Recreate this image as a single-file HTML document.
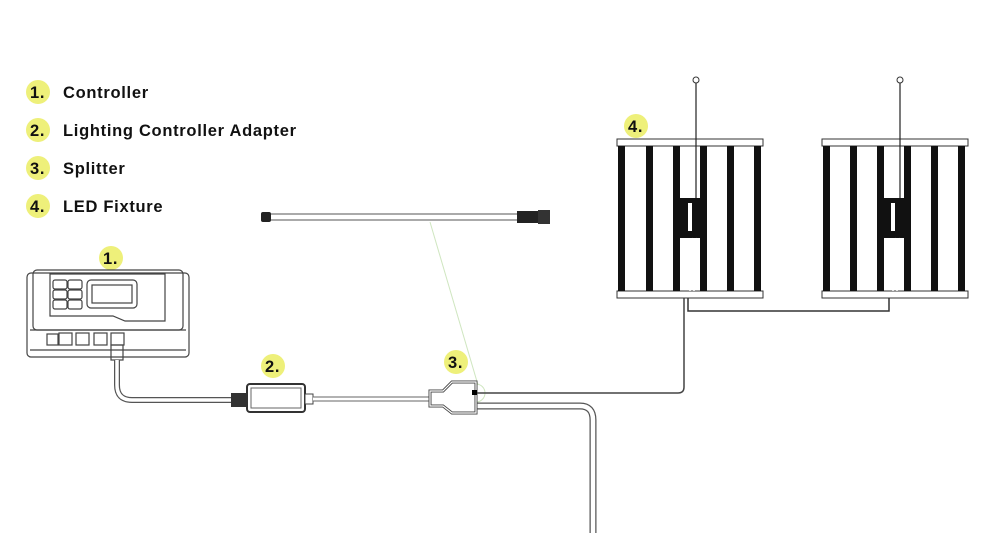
<!DOCTYPE html>
<html><head><style>
body{margin:0;background:#fff;}
svg{display:block}
text{font-family:"Liberation Sans",sans-serif;}
</style></head><body>
<svg width="1000" height="558" viewBox="0 0 1000 558" xmlns="http://www.w3.org/2000/svg">
<!-- legend -->
<g font-size="16.5" font-weight="bold" fill="#111" letter-spacing="0.7">
<circle cx="38" cy="92" r="12" fill="#eef07a"/><text x="30" y="98">1.</text><text x="63" y="98">Controller</text>
<circle cx="38" cy="130" r="12" fill="#eef07a"/><text x="30" y="136">2.</text><text x="63" y="136">Lighting Controller Adapter</text>
<circle cx="38" cy="168" r="12" fill="#eef07a"/><text x="30" y="174">3.</text><text x="63" y="174">Splitter</text>
<circle cx="38" cy="206" r="12" fill="#eef07a"/><text x="30" y="212">4.</text><text x="63" y="212">LED Fixture</text>
<circle cx="111" cy="258" r="12" fill="#eef07a"/><text x="103" y="264">1.</text>
<circle cx="273" cy="366" r="12" fill="#eef07a"/><text x="265" y="372">2.</text>
<circle cx="456" cy="362" r="12" fill="#eef07a"/><text x="448" y="368">3.</text>
<circle cx="636" cy="126" r="12" fill="#eef07a"/><text x="628" y="132">4.</text>
</g>
<!-- green faint line -->
<line x1="430" y1="222" x2="478" y2="385" stroke="#cfe6c0" stroke-width="1"/>
<circle cx="476" cy="393" r="9" fill="none" stroke="#cfe6c0"/>
<!-- middle cable -->
<rect x="268" y="214" width="250" height="6" fill="#fff" stroke="#555" stroke-width="1"/>
<rect x="261" y="212" width="10" height="10" rx="2" fill="#222"/>
<rect x="517" y="211" width="22" height="12" fill="#222"/>
<rect x="538" y="210" width="12" height="14" fill="#333"/>
<!-- controller -->
<g fill="none" stroke="#444" stroke-width="1.2">
<rect x="27" y="273" width="162" height="84" rx="4"/>
<rect x="33" y="270" width="150" height="60" rx="4"/>
<path d="M50 274 H165 V321 H125 L113 316 H50 Z"/>
<rect x="87" y="280" width="50" height="28" rx="4"/>
<rect x="92" y="285" width="40" height="18"/>
<rect x="53" y="280" width="14" height="9" rx="2"/><rect x="68" y="280" width="14" height="9" rx="2"/>
<rect x="53" y="290" width="14" height="9" rx="2"/><rect x="68" y="290" width="14" height="9" rx="2"/>
<rect x="53" y="300" width="14" height="9" rx="2"/><rect x="68" y="300" width="14" height="9" rx="2"/>
<line x1="30" y1="330" x2="186" y2="330"/><line x1="30" y1="350" x2="186" y2="350"/>
<rect x="47" y="334" width="11" height="11"/><rect x="59" y="333" width="13" height="12"/><rect x="76" y="333" width="13" height="12"/><rect x="94" y="333" width="13" height="12"/><rect x="111" y="333" width="13" height="12"/>
<rect x="111" y="345" width="12" height="15"/>
</g>
<!-- cable controller to adapter -->
<path d="M117 360 V385 Q117 400 132 400 H235" fill="none" stroke="#555" stroke-width="6"/>
<path d="M117 360 V385 Q117 400 132 400 H235" fill="none" stroke="#fff" stroke-width="3.5"/>
<rect x="231" y="393" width="16" height="14" fill="#333"/>
<rect x="247" y="384" width="58" height="28" rx="3" fill="#fff" stroke="#333" stroke-width="2"/>
<rect x="251" y="388" width="50" height="20" fill="#fff" stroke="#666" stroke-width="1"/>
<rect x="305" y="394" width="8" height="10" fill="#fff" stroke="#444"/>
<!-- adapter to splitter -->
<path d="M313 399 H430" fill="none" stroke="#666" stroke-width="5"/>
<path d="M313 399 H430" fill="none" stroke="#fff" stroke-width="3"/>
<!-- splitter cable down -->
<path d="M476 406 H580 Q593 406 593 420 V533" fill="none" stroke="#555" stroke-width="7"/>
<path d="M476 406 H580 Q593 406 593 420 V533" fill="none" stroke="#fff" stroke-width="4.5"/>
<!-- splitter -->
<path d="M430 391 H443 L452 382 H476 V413 H452 L443 406 H430 Z" fill="#fff" stroke="#444" stroke-width="3"/>
<path d="M430 391 H443 L452 382 H476 V413 H452 L443 406 H430 Z" fill="none" stroke="#fff" stroke-width="1.2"/>
<rect x="472" y="390" width="5" height="5" fill="#000"/>
<!-- line to fixture -->
<path d="M477 393 H678 Q684 393 684 387 V298" fill="none" stroke="#444" stroke-width="1.5"/>
<path d="M688 298 V311 H889 V298" fill="none" stroke="#333" stroke-width="1.5"/>
<!-- fixtures -->
<g>
<rect x="617" y="139" width="146" height="7" fill="#fff" stroke="#333"/>
<rect x="617" y="291" width="146" height="7" fill="#fff" stroke="#333"/>
<g fill="#111"><rect x="618" y="146" width="7" height="145"/><rect x="646" y="146" width="7" height="145"/><rect x="673" y="146" width="7" height="145"/><rect x="700" y="146" width="7" height="145"/><rect x="727" y="146" width="7" height="145"/><rect x="754" y="146" width="7" height="145"/></g>
<rect x="674" y="198" width="32" height="40" fill="#111"/>
<rect x="688" y="203" width="4" height="28" fill="#fff"/>
<line x1="696" y1="82" x2="696" y2="198" stroke="#222" stroke-width="1.2"/>
<circle cx="696" cy="80" r="3" fill="#fff" stroke="#333"/>
<path d="M693 238 L690 260 V291 M697 238 L694 260 V291" stroke="#fff" stroke-width="1.5" fill="none"/>
<rect x="822" y="139" width="146" height="7" fill="#fff" stroke="#333"/>
<rect x="822" y="291" width="146" height="7" fill="#fff" stroke="#333"/>
<g fill="#111"><rect x="823" y="146" width="7" height="145"/><rect x="850" y="146" width="7" height="145"/><rect x="877" y="146" width="7" height="145"/><rect x="904" y="146" width="7" height="145"/><rect x="931" y="146" width="7" height="145"/><rect x="958" y="146" width="7" height="145"/></g>
<rect x="879" y="198" width="30" height="40" fill="#111"/>
<rect x="891" y="203" width="4" height="28" fill="#fff"/>
<line x1="900" y1="82" x2="900" y2="198" stroke="#222" stroke-width="1.2"/>
<circle cx="900" cy="80" r="3" fill="#fff" stroke="#333"/>
<path d="M896 238 L893 260 V291 M900 238 L897 260 V291" stroke="#fff" stroke-width="1.5" fill="none"/>
</g>
</svg>
</body></html>
